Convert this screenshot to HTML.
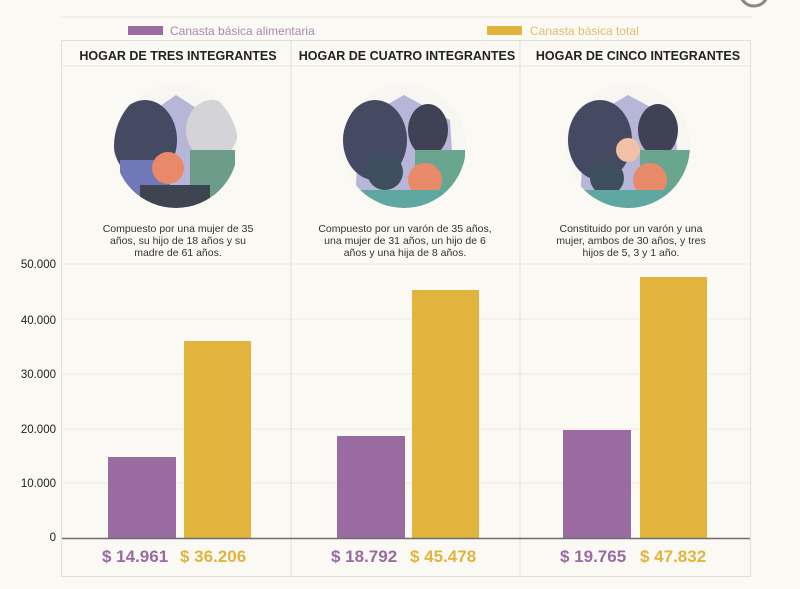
<!DOCTYPE html>
<html><head><meta charset="utf-8"><style>
html,body{margin:0;padding:0;background:#fbf9f3;}
svg{display:block;font-family:"Liberation Sans",Arial,sans-serif;}
</style></head><body>
<svg width="800" height="589" viewBox="0 0 800 589" xmlns="http://www.w3.org/2000/svg">
<rect width="800" height="589" fill="#fbf9f3"/>
<circle cx="754" cy="-8" r="14" fill="none" stroke="#888" stroke-width="3"/>
<line x1="60" y1="17" x2="752" y2="17" stroke="#ebe8e0" stroke-width="1"/>
<rect x="128" y="26" width="35" height="9" fill="#9a6ba0"/>
<text x="170" y="35" font-size="12" fill="#a888b0">Canasta básica alimentaria</text>
<rect x="487" y="26" width="35" height="9" fill="#e1b43e"/>
<text x="530" y="35" font-size="12" fill="#dcc070">Canasta básica total</text>
<!-- panels -->
<rect x="61.5" y="40.5" width="689" height="536" fill="none" stroke="#e2dfd8"/>
<line x1="62" y1="66" x2="750" y2="66" stroke="#e6e3dc"/>
<line x1="291" y1="40" x2="291" y2="577" stroke="#e2dfd8"/>
<line x1="520" y1="40" x2="520" y2="577" stroke="#e2dfd8"/>
<g font-size="12.5" font-weight="bold" fill="#222" text-anchor="middle">
<text x="178" y="60">HOGAR DE TRES INTEGRANTES</text>
<text x="407" y="60">HOGAR DE CUATRO INTEGRANTES</text>
<text x="638" y="60">HOGAR DE CINCO INTEGRANTES</text>
</g>
<!-- illustrations -->
<defs><clipPath id="c1"><circle cx="176" cy="146" r="62"/></clipPath>
<clipPath id="c2"><circle cx="404" cy="146" r="62"/></clipPath>
<clipPath id="c3"><circle cx="628" cy="146" r="62"/></clipPath></defs>
<g clip-path="url(#c1)">
<rect x="110" y="80" width="140" height="140" fill="#f8f6f2"/>
<polygon points="140,120 176,95 215,120 225,200 130,200" fill="#b8b6d8"/>
<ellipse cx="145" cy="140" rx="32" ry="40" fill="#454a63"/>
<ellipse cx="212" cy="130" rx="26" ry="30" fill="#d4d4d8"/>
<rect x="190" y="150" width="45" height="60" fill="#6e9c8a"/>
<rect x="120" y="160" width="50" height="50" fill="#7078b8"/>
<circle cx="168" cy="168" r="16" fill="#e88a6a"/>
<rect x="140" y="185" width="70" height="25" fill="#3f4550"/>
</g>
<g clip-path="url(#c2)">
<rect x="340" y="80" width="140" height="140" fill="#f8f6f2"/>
<polygon points="360,120 404,95 450,120 455,200 355,200" fill="#b8b6d8"/>
<ellipse cx="375" cy="140" rx="32" ry="40" fill="#454a63"/>
<ellipse cx="428" cy="130" rx="20" ry="26" fill="#3f4255"/>
<rect x="415" y="150" width="50" height="60" fill="#6aa68f"/>
<circle cx="385" cy="172" r="18" fill="#3e4f5f"/>
<circle cx="425" cy="180" r="17" fill="#e88a6a"/>
<rect x="350" y="190" width="110" height="20" fill="#5fa7a0"/>
</g>
<g clip-path="url(#c3)">
<rect x="560" y="80" width="140" height="140" fill="#f8f6f2"/>
<polygon points="585,120 628,95 675,120 680,200 580,200" fill="#b8b6d8"/>
<ellipse cx="600" cy="140" rx="32" ry="40" fill="#454a63"/>
<ellipse cx="658" cy="130" rx="20" ry="26" fill="#3f4255"/>
<rect x="640" y="150" width="50" height="60" fill="#6aa68f"/>
<circle cx="628" cy="150" r="12" fill="#f0c0a8"/>
<circle cx="607" cy="178" r="17" fill="#3e4f5f"/>
<circle cx="650" cy="180" r="17" fill="#e88a6a"/>
<rect x="575" y="190" width="110" height="20" fill="#5fa7a0"/>
</g>
<g font-size="10.5" fill="#333" text-anchor="middle">
<text x="178" y="232">Compuesto por una mujer de 35</text>
<text x="178" y="244">años, su hijo de 18 años y su</text>
<text x="178" y="256">madre de 61 años.</text>
<text x="405" y="232">Compuesto por un varón de 35 años,</text>
<text x="405" y="244">una mujer de 31 años, un hijo de 6</text>
<text x="405" y="256">años y una hija de 8 años.</text>
<text x="631" y="232">Constituido por un varón y una</text>
<text x="631" y="244">mujer, ambos de 30 años, y tres</text>
<text x="631" y="256">hijos de 5, 3 y 1 año.</text>
</g>
<!-- grid -->
<g stroke="#ece9e1" stroke-width="1">
<line x1="62" y1="264" x2="750" y2="264"/>
<line x1="62" y1="319" x2="750" y2="319"/>
<line x1="62" y1="374" x2="750" y2="374"/>
<line x1="62" y1="429" x2="750" y2="429"/>
<line x1="62" y1="483" x2="750" y2="483"/>
</g>
<g font-size="11.5" fill="#222" text-anchor="end">
<text x="56" y="268">50.000</text>
<text x="56" y="324">40.000</text>
<text x="56" y="378">30.000</text>
<text x="56" y="433">20.000</text>
<text x="56" y="487">10.000</text>
<text x="56" y="541">0</text>
</g>
<!-- bars -->
<rect x="108" y="457" width="68" height="81" fill="#9a6ba0"/>
<rect x="184" y="341" width="67" height="197" fill="#e1b43e"/>
<rect x="337" y="436" width="68" height="102" fill="#9a6ba0"/>
<rect x="412" y="290" width="67" height="248" fill="#e1b43e"/>
<rect x="563" y="430" width="68" height="108" fill="#9a6ba0"/>
<rect x="640" y="277" width="67" height="261" fill="#e1b43e"/>
<line x1="62" y1="538.5" x2="750" y2="538.5" stroke="#6e6e6e" stroke-width="1.5"/>
<g font-size="17" font-weight="bold">
<text x="102" y="562" fill="#9a6ba0">$ 14.961</text><text x="180" y="562" fill="#e1b43e">$ 36.206</text>
<text x="331" y="562" fill="#9a6ba0">$ 18.792</text><text x="410" y="562" fill="#e1b43e">$ 45.478</text>
<text x="560" y="562" fill="#9a6ba0">$ 19.765</text><text x="640" y="562" fill="#e1b43e">$ 47.832</text>
</g>
</svg>
</body></html>
